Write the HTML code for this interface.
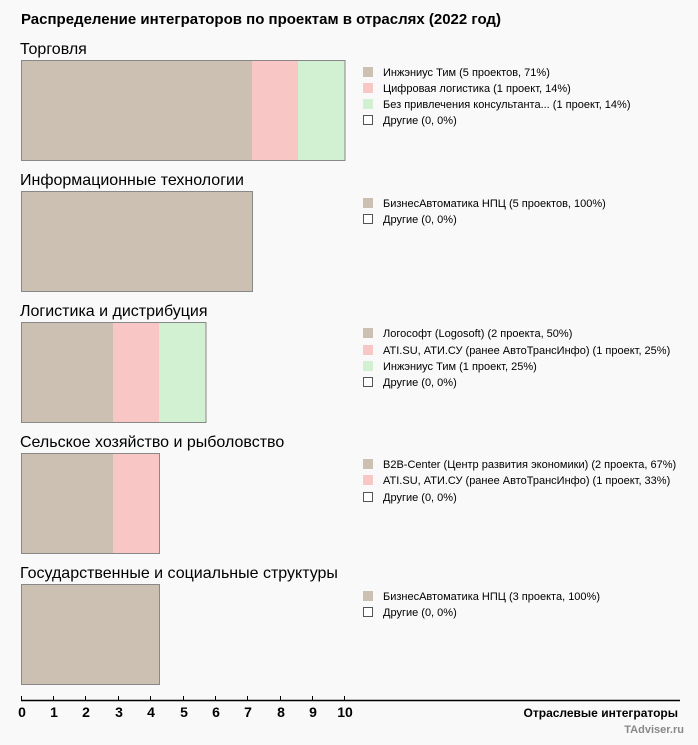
<!DOCTYPE html>
<html><head><meta charset="utf-8"><style>
body{margin:0;background:#f9f9f9;}
svg text{font-family:"Liberation Sans",sans-serif;}
</style></head><body>
<svg width="698" height="740" viewBox="0 0 698 740" xmlns="http://www.w3.org/2000/svg">
<rect width="698" height="740" fill="#f9f9f9"/>
<text x="21" y="24" font-size="15" font-weight="bold" fill="#000">Распределение интеграторов по проектам в отраслях (2022 год)</text>

<g font-size="16" fill="#000">
<text x="20" y="54">Торговля</text>
<text x="20" y="185">Информационные технологии</text>
<text x="20" y="316">Логистика и дистрибуция</text>
<text x="20" y="447">Сельское хозяйство и рыболовство</text>
<text x="20" y="578">Государственные и социальные структуры</text>
</g>

<!-- bars -->
<g stroke="none">
<rect x="21.5" y="60.5" width="231" height="100" fill="#cbc0b2"/>
<rect x="252" y="60.5" width="46" height="100" fill="#f9c6c6"/>
<rect x="298" y="60.5" width="47" height="100" fill="#d2f0d2"/>

<rect x="21.5" y="191.5" width="231" height="100" fill="#cbc0b2"/>

<rect x="21.5" y="322.5" width="92" height="100" fill="#cbc0b2"/>
<rect x="113" y="322.5" width="46" height="100" fill="#f9c6c6"/>
<rect x="159" y="322.5" width="47" height="100" fill="#d2f0d2"/>

<rect x="21.5" y="453.5" width="92" height="100" fill="#cbc0b2"/>
<rect x="113" y="453.5" width="46.5" height="100" fill="#f9c6c6"/>

<rect x="21.5" y="584.5" width="138" height="100" fill="#cbc0b2"/>
</g>
<g fill="none" stroke="#888" stroke-width="1">
<rect x="21.5" y="60.5" width="323.5" height="100"/>
<rect x="21.5" y="191.5" width="231" height="100"/>
<rect x="21.5" y="322.5" width="184.5" height="100"/>
<rect x="21.5" y="453.5" width="138" height="100"/>
<rect x="21.5" y="584.5" width="138" height="100"/>
</g>

<!-- legends -->
<g font-size="11" fill="#000">
<rect x="363" y="67" width="10" height="10" fill="#cbc0b2"/><text x="383" y="76">Инжэниус Тим (5 проектов, 71%)</text>
<rect x="363" y="83" width="10" height="10" fill="#f9c6c6"/><text x="383" y="92">Цифровая логистика (1 проект, 14%)</text>
<rect x="363" y="99" width="10" height="10" fill="#d2f0d2"/><text x="383" y="108">Без привлечения консультанта... (1 проект, 14%)</text>
<rect x="363.5" y="115.5" width="9" height="9" fill="#fff" stroke="#555"/><text x="383" y="124">Другие (0, 0%)</text>

<rect x="363" y="198" width="10" height="10" fill="#cbc0b2"/><text x="383" y="207">БизнесАвтоматика НПЦ (5 проектов, 100%)</text>
<rect x="363.5" y="214.5" width="9" height="9" fill="#fff" stroke="#555"/><text x="383" y="223">Другие (0, 0%)</text>

<rect x="363" y="328" width="10" height="10" fill="#cbc0b2"/><text x="383" y="337">Логософт (Logosoft) (2 проекта, 50%)</text>
<rect x="363" y="345" width="10" height="10" fill="#f9c6c6"/><text x="383" y="354">ATI.SU, АТИ.СУ (ранее АвтоТрансИнфо) (1 проект, 25%)</text>
<rect x="363" y="361" width="10" height="10" fill="#d2f0d2"/><text x="383" y="370">Инжэниус Тим (1 проект, 25%)</text>
<rect x="363.5" y="377.5" width="9" height="9" fill="#fff" stroke="#555"/><text x="383" y="386">Другие (0, 0%)</text>

<rect x="363" y="459" width="10" height="10" fill="#cbc0b2"/><text x="383" y="468">B2B-Center (Центр развития экономики) (2 проекта, 67%)</text>
<rect x="363" y="475" width="10" height="10" fill="#f9c6c6"/><text x="383" y="484">ATI.SU, АТИ.СУ (ранее АвтоТрансИнфо) (1 проект, 33%)</text>
<rect x="363.5" y="492.5" width="9" height="9" fill="#fff" stroke="#555"/><text x="383" y="501">Другие (0, 0%)</text>

<rect x="363" y="591" width="10" height="10" fill="#cbc0b2"/><text x="383" y="600">БизнесАвтоматика НПЦ (3 проекта, 100%)</text>
<rect x="363.5" y="607.5" width="9" height="9" fill="#fff" stroke="#555"/><text x="383" y="616">Другие (0, 0%)</text>
</g>

<!-- axis -->
<line x1="21" y1="700.5" x2="680" y2="700.5" stroke="#000" stroke-width="1.5"/>
<g stroke="#000" stroke-width="1">
<line x1="21.5" y1="696" x2="21.5" y2="701"/>
<line x1="53.5" y1="696" x2="53.5" y2="701"/>
<line x1="85.5" y1="696" x2="85.5" y2="701"/>
<line x1="118.5" y1="696" x2="118.5" y2="701"/>
<line x1="150.5" y1="696" x2="150.5" y2="701"/>
<line x1="183.5" y1="696" x2="183.5" y2="701"/>
<line x1="215.5" y1="696" x2="215.5" y2="701"/>
<line x1="247.5" y1="696" x2="247.5" y2="701"/>
<line x1="280.5" y1="696" x2="280.5" y2="701"/>
<line x1="312.5" y1="696" x2="312.5" y2="701"/>
<line x1="344.5" y1="696" x2="344.5" y2="701"/>
</g>
<g font-size="14" font-weight="bold" fill="#000" text-anchor="middle">
<text x="22" y="717">0</text><text x="54" y="717">1</text><text x="86" y="717">2</text>
<text x="119" y="717">3</text><text x="151" y="717">4</text><text x="184" y="717">5</text>
<text x="216" y="717">6</text><text x="248" y="717">7</text><text x="281" y="717">8</text>
<text x="313" y="717">9</text><text x="345" y="717">10</text>
</g>
<text x="678" y="717" font-size="12" font-weight="bold" text-anchor="end" fill="#000">Отраслевые интеграторы</text>
<text x="684" y="733" font-size="11" font-weight="bold" text-anchor="end" fill="#888">TAdviser.ru</text>
</svg>
</body></html>
